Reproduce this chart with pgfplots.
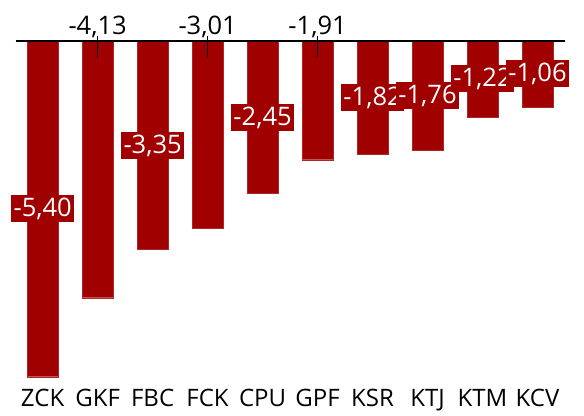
\documentclass[border=0pt]{standalone}
\usepackage{fontspec}
\setmainfont{Open Sans}
\usepackage{pgfplots}
\pgfplotsset{compat=1.18}
\usepackage{pgfplotstable}
\definecolor{barred}{RGB}{160,0,0}
\pgfplotstableread{
x y out
0 -5.40 0
1 -4.13 1
2 -3.35 0
3 -3.01 1
4 -2.45 0
5 -1.91 1
6 -1.82 0
7 -1.76 0
8 -1.22 0
9 -1.06 0
}\data
\newcommand{\lblfont}{\fontsize{25.5bp}{30bp}\selectfont}
\newcommand{\tickfont}{\fontsize{24bp}{28bp}\selectfont}
\begin{document}
\begin{tikzpicture}
\useasboundingbox (0,0) rectangle (584bp,-416bp);
\begin{axis}[
  at={(15.7bp,-41bp)}, anchor=north west,
  scale only axis, width=549.3bp, height=335.7bp,
  xmin=-0.49, xmax=9.5, ymin=-5.40, ymax=0,
  axis line style={draw=none},
  major tick length=0pt,
  ytick=\empty,
  xtick={0,...,9},
  xticklabels={ZCK,GKF,FBC,FCK,CPU,GPF,KSR,KTJ,KTM,KCV},
  xticklabel style={anchor=base, yshift=-29.8bp, inner sep=0pt, font=\tickfont},
  clip=false,
  /pgf/number format/assume math mode=true,
]
\addplot[ybar, bar shift=0pt, bar width=30.7bp, fill=barred, draw=barred!85!white, line width=0.3bp] table[x=x, y=y] {\data};
\draw[black, line width=1.8bp] (rel axis cs:0,1) -- (rel axis cs:1,1);
% labels inside bars
\addplot[only marks, mark=none,
  restrict expr to domain={\thisrow{out}}{0:0},
  point meta=explicit,
  nodes near coords={\pgfmathprintnumber[fixed,zerofill,precision=2,use comma,assume math mode=true]{\pgfplotspointmeta}},
  every node near coord/.style={anchor=center, fill=barred, text=white, font=\lblfont, inner xsep=2.5bp, inner ysep=2bp, text height=19.5bp, text depth=3.5bp},
] table[x=x, y expr=\thisrow{y}/2, meta=y] {\data};
% labels above the axis
\addplot[only marks, mark=|, mark size=10.5bp, mark options={black, line width=1bp, yshift=-5.5bp},
  restrict expr to domain={\thisrow{out}}{1:1},
  point meta=explicit,
  nodes near coords={\pgfmathprintnumber[fixed,zerofill,precision=2,use comma,assume math mode=true]{\pgfplotspointmeta}},
  every node near coord/.style={anchor=base, yshift=12bp, text=black, font=\lblfont, inner sep=0pt},
] table[x=x, y expr=0, meta=y] {\data};
\end{axis}
\end{tikzpicture}
\end{document}
